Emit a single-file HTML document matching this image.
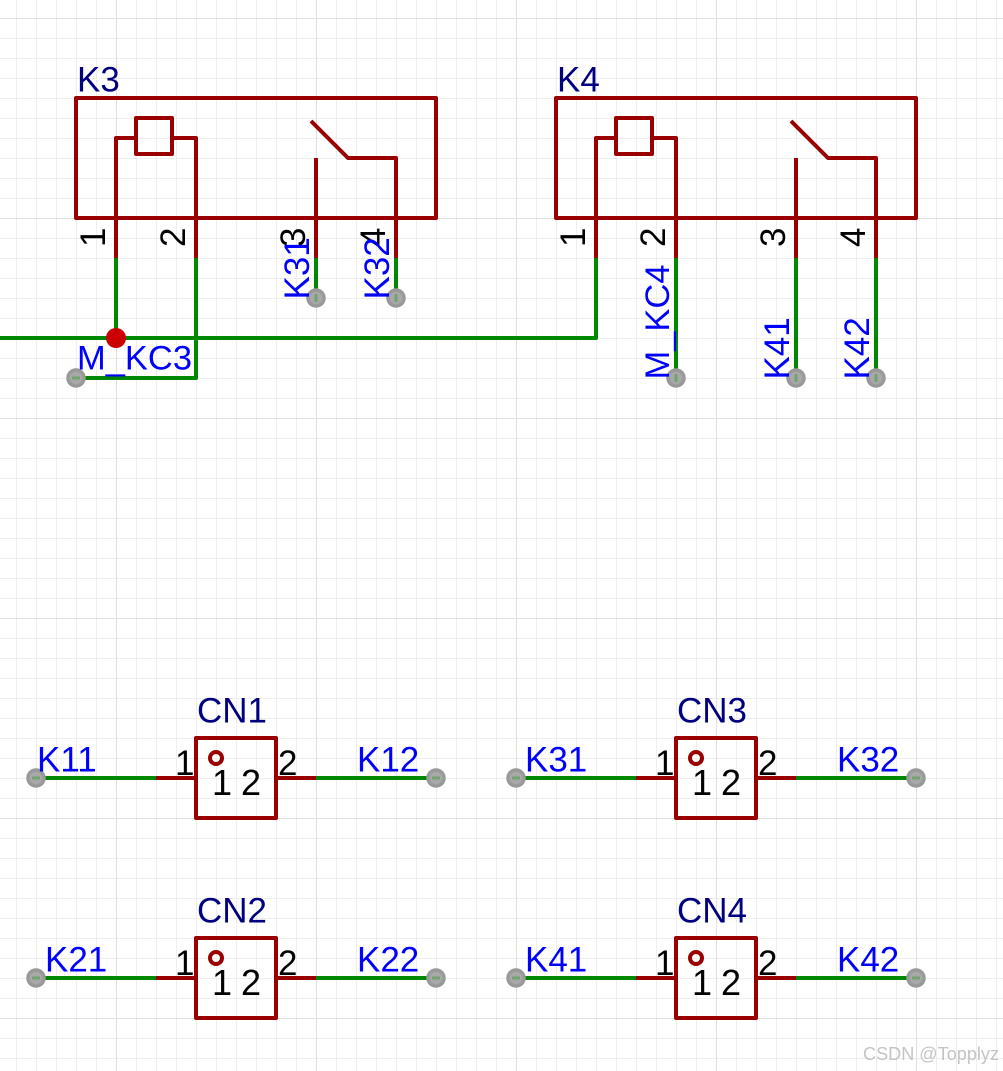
<!DOCTYPE html>
<html>
<head>
<meta charset="utf-8">
<style>
html,body{margin:0;padding:0;background:#fff;width:1003px;height:1071px;overflow:hidden}
svg{display:block}
text{font-family:"Liberation Sans",Arial,sans-serif;font-size:35px}
.r{stroke:#990000;stroke-width:4;fill:none;stroke-linecap:round;stroke-linejoin:round}
.g{stroke:#008800;stroke-width:4;fill:none;stroke-linejoin:round}
.f{fill:#a8a8a8;stroke:#999;stroke-width:3.5}
.n{fill:#000080}.b{fill:#0000ff}.k{fill:#000}
</style>
</head>
<body>
<svg width="1003" height="1071" viewBox="0 0 1003 1071" xmlns="http://www.w3.org/2000/svg">
<defs>
<pattern id="mi" width="20" height="20" x="16" y="18" patternUnits="userSpaceOnUse">
<path d="M0.5 0V20M0 0.5H20" stroke="#eeeeea" stroke-width="1" fill="none"/>
</pattern>
<pattern id="ma" width="200" height="200" x="116" y="18" patternUnits="userSpaceOnUse">
<path d="M0.5 0V200M0 0.5H200" stroke="#e0e0de" stroke-width="1" fill="none"/>
</pattern>
<g id="cn">
<path class="g" d="M36 778H156M316 778H436" style="stroke-linecap:butt"/>
<path class="r" d="M156 778H196M276 778H316" style="stroke-linecap:butt"/>
<rect class="r" x="196" y="738" width="80" height="80"/>
<circle class="r" cx="216" cy="758" r="6"/>
<text class="k" x="175" y="775">1</text>
<text class="k" x="278" y="775">2</text>
<text class="k" x="212" y="795" style="font-size:36px">1</text>
<text class="k" x="241" y="795" style="font-size:36px">2</text>
<circle class="f" cx="36" cy="778" r="8"/><path d="M32 778H40" stroke="#6fa36f" stroke-width="3"/>
<circle class="f" cx="436" cy="778" r="8"/><path d="M432 778H440" stroke="#6fa36f" stroke-width="3"/>
</g>
<g id="relay">
<rect class="r" x="76" y="98" width="360" height="120"/>
<rect class="r" x="136" y="118" width="36" height="36"/>
<path class="r" d="M136 138H116V258M172 138H196V258M316 158V258M311 121L348 158H396V258" style="stroke-linecap:butt"/>
</g>
</defs>
<rect width="1003" height="1071" fill="#fff"/>
<rect width="1003" height="1071" fill="url(#mi)"/>
<rect width="1003" height="1071" fill="url(#ma)"/>

<use href="#relay"/>
<use href="#relay" x="480"/>

<path class="g" d="M116 258V338M196 258V378H76M0 338H596V258M316 258V298M396 258V298M676 258V378M796 258V378M876 258V378"/>
<circle cx="116" cy="338" r="10" fill="#cc0000"/>

<g>
<circle class="f" cx="316" cy="298" r="8"/><path d="M316 294V302" stroke="#6fa36f" stroke-width="3"/>
<circle class="f" cx="396" cy="298" r="8"/><path d="M396 294V302" stroke="#6fa36f" stroke-width="3"/>
<circle class="f" cx="76" cy="378" r="8"/><path d="M72 378H80" stroke="#6fa36f" stroke-width="3"/>
<circle class="f" cx="676" cy="378" r="8"/><path d="M676 374V382" stroke="#6fa36f" stroke-width="3"/>
<circle class="f" cx="796" cy="378" r="8"/><path d="M796 374V382" stroke="#6fa36f" stroke-width="3"/>
<circle class="f" cx="876" cy="378" r="8"/><path d="M876 374V382" stroke="#6fa36f" stroke-width="3"/>
</g>

<text class="n" x="77" y="91.5">K3</text>
<text class="n" x="557" y="91.5">K4</text>

<g class="k">
<text transform="translate(105,247) rotate(-90)">1</text>
<text transform="translate(185,247) rotate(-90)">2</text>
<text transform="translate(305,247) rotate(-90)">3</text>
<text transform="translate(385,247) rotate(-90)">4</text>
<text transform="translate(585,247) rotate(-90)">1</text>
<text transform="translate(665,247) rotate(-90)">2</text>
<text transform="translate(785,247) rotate(-90)">3</text>
<text transform="translate(865,247) rotate(-90)">4</text>
</g>

<text class="b" transform="translate(309,299.5) rotate(-90)">K31</text>
<text class="b" transform="translate(389,299.5) rotate(-90)">K32</text>
<text class="b" transform="translate(669,379.5) rotate(-90)" style="font-size:34.5px">M_KC4</text>
<text class="b" transform="translate(789,379.5) rotate(-90)">K41</text>
<text class="b" transform="translate(869,379.5) rotate(-90)">K42</text>
<text class="b" x="77" y="369.5" style="font-size:34.5px">M_KC3</text>

<use href="#cn"/>
<use href="#cn" x="480"/>
<use href="#cn" y="200"/>
<use href="#cn" x="480" y="200"/>

<text class="n" x="197" y="722.5">CN1</text>
<text class="n" x="677" y="722.5">CN3</text>
<text class="n" x="197" y="922.5">CN2</text>
<text class="n" x="677" y="922.5">CN4</text>

<text class="b" x="37" y="771.5">K11</text>
<text class="b" x="357" y="771.5">K12</text>
<text class="b" x="525" y="771.5">K31</text>
<text class="b" x="837" y="771.5">K32</text>
<text class="b" x="45" y="971.5">K21</text>
<text class="b" x="357" y="971.5">K22</text>
<text class="b" x="525" y="971.5">K41</text>
<text class="b" x="837" y="971.5">K42</text>

<text x="863" y="1060" style="font-size:18.1px" fill="#c4c4c4">CSDN @Topplyz</text>
</svg>
</body>
</html>
